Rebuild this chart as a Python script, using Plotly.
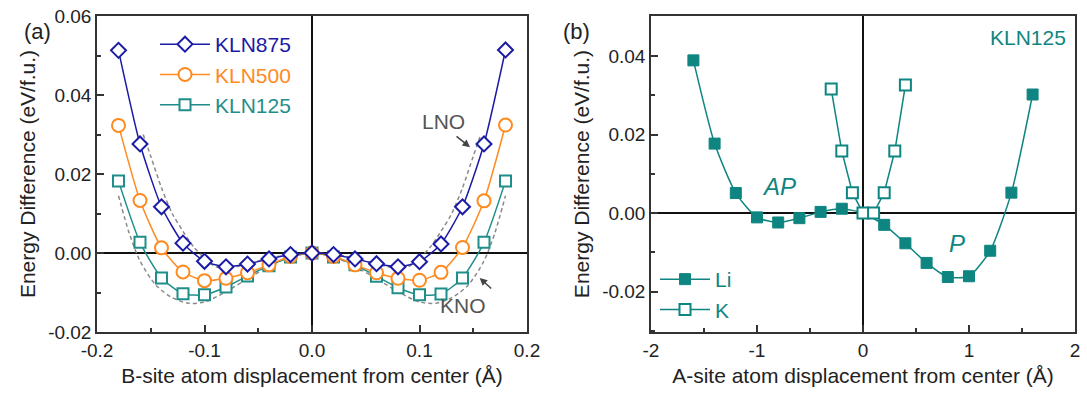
import plotly.graph_objects as go

# ---------------- data: panel (a) ----------------
x_b = [-0.18, -0.16, -0.14, -0.12, -0.10, -0.08, -0.06, -0.04, -0.02, 0.0,
       0.02, 0.04, 0.06, 0.08, 0.10, 0.12, 0.14, 0.16, 0.18]
kln875 = [0.0513, 0.0276, 0.0117, 0.0025, -0.0021, -0.0035, -0.0028, -0.0015, -0.0004, 0.0,
          -0.0004, -0.0015, -0.0027, -0.0035, -0.0022, 0.0023, 0.0117, 0.0276, 0.0514]
kln500 = [0.0323, 0.0133, 0.0013, -0.0048, -0.0070, -0.0064, -0.0050, -0.0030, -0.0009, 0.0,
          -0.0009, -0.0030, -0.0050, -0.0064, -0.0069, -0.0049, 0.0014, 0.0132, 0.0324]
kln125 = [0.0182, 0.0027, -0.0063, -0.0103, -0.0106, -0.0086, -0.0058, -0.0032, -0.0010, 0.0,
          -0.0010, -0.0030, -0.0059, -0.0088, -0.0106, -0.0104, -0.0063, 0.0027, 0.0182]

x_lno = [-0.157, -0.15, -0.14, -0.13, -0.12, -0.11, -0.10, -0.09, -0.08, -0.06, -0.04, -0.02, 0.0,
         0.02, 0.04, 0.06, 0.08, 0.09, 0.10, 0.11, 0.12, 0.13, 0.14, 0.15, 0.157]
lno = [0.0300, 0.0245, 0.0165, 0.0100, 0.0055, 0.0015, -0.0013, -0.0034, -0.0039, -0.0028, -0.0013, -0.0004, 0.0,
       -0.0004, -0.0013, -0.0028, -0.0039, -0.0034, -0.0013, 0.0015, 0.0055, 0.0100, 0.0165, 0.0245, 0.0300]

x_kno = [-0.18, -0.17, -0.16, -0.145, -0.13, -0.115, -0.10, -0.08, -0.06, -0.04, -0.02, 0.0,
         0.02, 0.04, 0.06, 0.08, 0.10, 0.115, 0.13, 0.145, 0.16, 0.17, 0.18]
kno = [0.0145, 0.0050, -0.0020, -0.0082, -0.0113, -0.0127, -0.0124, -0.0098, -0.0065, -0.0034, -0.0010, 0.0,
       -0.0010, -0.0034, -0.0065, -0.0098, -0.0124, -0.0127, -0.0113, -0.0082, -0.0020, 0.0050, 0.0145]

# ---------------- data: panel (b) ----------------
x_li = [-1.6, -1.4, -1.2, -1.0, -0.8, -0.6, -0.4, -0.2, 0.0, 0.2, 0.4, 0.6, 0.8, 1.0, 1.2, 1.4, 1.6]
li = [0.0389, 0.0177, 0.0051, -0.0011, -0.0024, -0.0013, 0.0003, 0.0011, 0.0, -0.0030, -0.0077,
      -0.0127, -0.0163, -0.0161, -0.0096, 0.0052, 0.0302]
x_k = [-0.3, -0.2, -0.1, 0.0, 0.1, 0.2, 0.3, 0.4]
k = [0.0316, 0.0158, 0.0052, 0.0, 0.0, 0.0052, 0.0158, 0.0326]

# tick labels
xa_ticks = [-0.2, -0.1, 0.0, 0.1, 0.2]
xa_text = ["-0.2", "-0.1", "0.0", "0.1", "0.2"]
ya_ticks = [-0.02, 0.0, 0.02, 0.04, 0.06]
ya_text = ["-0.02", "0.00", "0.02", "0.04", "0.06"]
xb_ticks = [-2, -1, 0, 1, 2]
xb_text = ["-2", "-1", "0", "1", "2"]
yb_ticks = [-0.02, 0.0, 0.02, 0.04]
yb_text = ["-0.02", "0.00", "0.02", "0.04"]

BLUE = "#1B1BA5"
ORANGE = "#FF8A1F"
TEAL_A = "#1F8E8A"
TEAL_B = "#0E8581"
GRAY = "#8A8A8A"
FONT = "Liberation Sans, Arial, sans-serif"

fig = go.Figure()

# dashed reference curves (a)
fig.add_trace(go.Scatter(x=x_lno, y=lno, mode="lines", line=dict(color=GRAY, dash="4px,3px", width=1.5, shape="spline", smoothing=0.8),
                         showlegend=False, xaxis="x", yaxis="y"))
fig.add_trace(go.Scatter(x=x_kno, y=kno, mode="lines", line=dict(color=GRAY, dash="4px,3px", width=1.5, shape="spline", smoothing=0.8),
                         showlegend=False, xaxis="x", yaxis="y"))

def series(x, y, color, symbol, size, name, xa, ya, legend, shape="spline"):
    return go.Scatter(
        x=x, y=y, mode="lines+markers", name=name,
        line=dict(color=color, width=1.5, shape=shape, smoothing=0.6),
        marker=dict(symbol=symbol, size=size, color="white", line=dict(color=color, width=2)),
        xaxis=xa, yaxis=ya, legend=legend)

fig.add_trace(series(x_b, kln125, TEAL_A, "square", 11, f"<span style='color:{TEAL_A}'>KLN125</span>", "x", "y", "legend"))
fig.add_trace(series(x_b, kln500, ORANGE, "circle", 13, f"<span style='color:{ORANGE}'>KLN500</span>", "x", "y", "legend"))
fig.add_trace(series(x_b, kln875, BLUE, "diamond", 11.5, f"<span style='color:{BLUE}'>KLN875</span>", "x", "y", "legend"))

# panel (b)
fig.add_trace(go.Scatter(x=x_li, y=li, mode="lines+markers", name="Li",
                         line=dict(color=TEAL_B, width=1.5, shape="spline", smoothing=0.6),
                         marker=dict(symbol="square", size=11, color=TEAL_B, line=dict(color=TEAL_B, width=1)),
                         xaxis="x2", yaxis="y2", legend="legend2"))
fig.add_trace(go.Scatter(x=x_k, y=k, mode="lines+markers", name="K",
                         line=dict(color=TEAL_B, width=1.5),
                         marker=dict(symbol="square", size=11, color="white", line=dict(color=TEAL_B, width=2)),
                         xaxis="x2", yaxis="y2", legend="legend2"))

W, H = 1087, 394
def px_x(p):
    return p / W
def px_y(p):
    return 1 - p / H

axis_common = dict(showline=True, mirror=True, linecolor="#333333", linewidth=1.5,
                   ticks="inside", ticklen=7, tickwidth=1.5, tickcolor="#333333",
                   showgrid=False, zeroline=True, zerolinecolor="#111111", zerolinewidth=1.5,
                   automargin=False,
                   tickfont=dict(size=19, color="#222222", family=FONT))
TITLE_FONT = dict(size=21, family=FONT, color="#222222")

fig.update_layout(
    width=W, height=H,
    margin=dict(l=0, r=0, t=0, b=0, autoexpand=False),
    paper_bgcolor="white", plot_bgcolor="white",
    font=dict(family=FONT, color="#222222"),
    xaxis=dict(domain=[px_x(97), px_x(527)], range=[-0.2, 0.2], anchor="y",
               tickvals=xa_ticks, ticktext=xa_text,
               minor=dict(ticks="inside", ticklen=4, dtick=0.05, tick0=0, tickcolor="#333333"),
               title=dict(text="B-site atom displacement from center (Å)", font=TITLE_FONT, standoff=9),
               **axis_common),
    yaxis=dict(domain=[px_y(332), px_y(16)], range=[-0.02, 0.06], anchor="x",
               tickvals=ya_ticks, ticktext=ya_text,
               minor=dict(ticks="inside", ticklen=4, dtick=0.01, tick0=0, tickcolor="#333333"),
               title=dict(text="Energy Difference (eV/f.u.)", font=TITLE_FONT, standoff=7),
               **axis_common),
    xaxis2=dict(domain=[px_x(651), px_x(1075)], range=[-2, 2], anchor="y2",
                tickvals=xb_ticks, ticktext=xb_text,
                minor=dict(ticks="inside", ticklen=4, dtick=0.5, tick0=0, tickcolor="#333333"),
                title=dict(text="A-site atom displacement from center (Å)", font=TITLE_FONT, standoff=9),
                **axis_common),
    yaxis2=dict(domain=[px_y(332), px_y(16)], range=[-0.0303, 0.0502], anchor="x2",
                tickvals=yb_ticks, ticktext=yb_text,
                minor=dict(ticks="inside", ticklen=4, dtick=0.01, tick0=0, tickcolor="#333333"),
                title=dict(text="Energy Difference (eV/f.u.)", font=TITLE_FONT, standoff=7),
                **axis_common),
    legend=dict(x=px_x(155), y=px_y(24), xanchor="left", yanchor="top", traceorder="reversed",
                bgcolor="rgba(0,0,0,0)", font=dict(size=21, family=FONT), itemwidth=50),
    legend2=dict(x=px_x(655), y=px_y(259), xanchor="left", yanchor="top",
                 bgcolor="rgba(0,0,0,0)", font=dict(size=21, family=FONT, color=TEAL_B), itemwidth=50),
    annotations=[
        dict(text="(a)", x=px_x(22), y=px_y(17), xref="paper", yref="paper", showarrow=False,
             font=dict(size=22, family=FONT, color="#222222")),
        dict(text="(b)", x=px_x(576), y=px_y(17), xref="paper", yref="paper", showarrow=False,
             font=dict(size=22, family=FONT, color="#222222")),
        dict(text="LNO", x=0.122, y=0.0334, xref="x", yref="y", showarrow=False,
             font=dict(size=21, family=FONT, color="#555555")),
        dict(text="", x=0.147, y=0.0268, xref="x", yref="y", showarrow=True, ax=-15, ay=-12,
             arrowhead=2, arrowsize=1, arrowwidth=1.5, arrowcolor="#444444"),
        dict(text="KNO", x=0.1405, y=-0.0132, xref="x", yref="y", showarrow=False,
             font=dict(size=21, family=FONT, color="#555555")),
        dict(text="", x=0.156, y=-0.0063, xref="x", yref="y", showarrow=True, ax=13, ay=12,
             arrowhead=2, arrowsize=1, arrowwidth=1.5, arrowcolor="#444444"),
        dict(text="KLN125", x=1.93, y=0.0448, xref="x2", yref="y2", xanchor="right", showarrow=False,
             font=dict(size=21, family=FONT, color=TEAL_B)),
        dict(text="<i>AP</i>", x=-0.79, y=0.0067, xref="x2", yref="y2", showarrow=False,
             font=dict(size=24, family=FONT, color=TEAL_B)),
        dict(text="<i>P</i>", x=0.89, y=-0.0077, xref="x2", yref="y2", showarrow=False,
             font=dict(size=24, family=FONT, color=TEAL_B)),
    ],
)

fig.write_html("out.html")
